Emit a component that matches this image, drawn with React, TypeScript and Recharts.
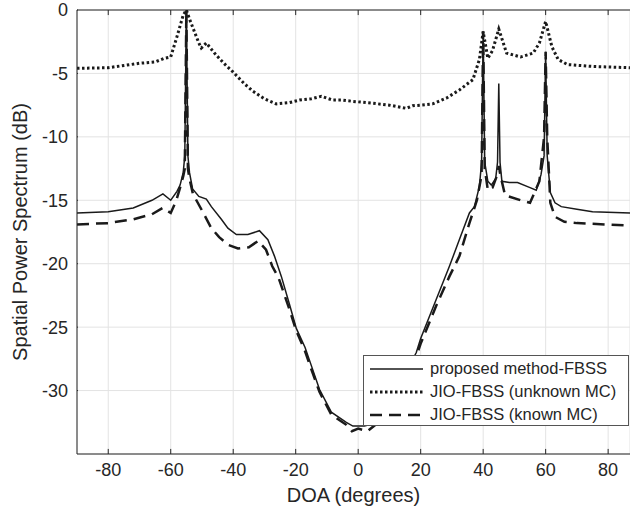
import { CartesianGrid, Legend, Line, LineChart, ReferenceLine, XAxis, YAxis } from "recharts";

// DOA (degrees) and spectrum (dB)
const proposedDoa = [-90, -80, -72, -66, -62.5, -60, -58, -57, -56, -55.5, -55, -54.5, -54, -53, -51, -48.6, -47, -43.8, -41.7, -39, -35.3, -31.6, -28.9, -26.8, -24.6, -22, -19.8, -17, -15.6, -12.4, -8.6, -3.8, -1.7, 2, 5, 8, 12, 15, 18.6, 20, 25, 29.2, 32.4, 35.6, 37.2, 38.8, 39.5, 40, 40.5, 41.5, 42.6, 44, 44.6, 45, 45.4, 46, 48.4, 51, 55, 57, 58.5, 59.5, 60, 60.5, 61.5, 63, 65, 70, 75, 87];
const proposedDb = [-16.0, -15.9, -15.6, -15.0, -14.5, -15.0, -14.3, -13.8, -12.8, -11.5, 0, -11.5, -12.8, -14.1, -14.7, -14.9, -15.5, -16.5, -17.2, -17.7, -17.7, -17.4, -18.1, -19.4, -21.0, -23.2, -25.1, -26.6, -27.6, -29.9, -31.7, -32.5, -32.8, -32.8, -32.6, -31.8, -30.0, -28.7, -27.0, -25.9, -22.8, -20.2, -18.1, -16.0, -15.5, -13.9, -12.0, -1.7, -12.0, -13.5, -13.8, -13.3, -12.0, -5.8, -12.0, -13.5, -13.6, -13.6, -14.0, -14.2, -13.0, -11.5, -3.3, -11.5, -14.4, -15.2, -15.5, -15.7, -15.9, -16.0];

const unknownDoa = [-90, -80, -70, -65, -62, -60, -58, -56, -55, -54, -52.9, -51, -50.2, -48.6, -46, -43, -40, -36.5, -33.7, -30, -26.2, -22, -18.8, -15, -11.8, -8.2, -5, -1.8, 4.6, 10, 15.4, 17.4, 20, 23.8, 28.2, 32.4, 36.7, 38.8, 40, 41.5, 43, 45, 47.5, 52, 56, 58, 60, 62, 64, 67, 75, 87];
const unknownDb = [-4.6, -4.55, -4.2, -4.1, -3.8, -3.7, -2.1, -0.4, 0, -0.7, -1.4, -2.6, -3.0, -2.6, -3.4, -4.2, -4.9, -5.8, -6.4, -7.0, -7.4, -7.3, -7.1, -7.0, -6.8, -7.1, -7.1, -7.2, -7.35, -7.5, -7.75, -7.55, -7.5, -7.4, -6.95, -6.3, -5.5, -3.9, -1.7, -3.8, -3.2, -1.5, -3.4, -3.7, -3.4, -2.6, -0.9, -2.9, -3.9, -4.3, -4.45, -4.55];

const knownDoa = [-90, -80, -72, -66, -62.5, -60, -58.2, -57, -56, -55.5, -55, -54.5, -54, -52.9, -50, -47, -44.5, -41.7, -38.5, -35, -32, -29.5, -27.5, -25.5, -22, -19.8, -17, -15.6, -12.4, -8.6, -3.8, -2, 0, 3, 6, 10, 15, 18.6, 20, 25, 29.2, 32.4, 35.6, 38, 39.5, 40, 40.5, 41.5, 43, 44.5, 45, 45.5, 47, 52, 55, 58, 59.5, 60, 60.5, 61.5, 63, 66, 70, 87];
const knownDb = [-16.9, -16.8, -16.5, -16.1, -15.6, -16.0, -15.0, -14.0, -13.1, -12.5, 0, -12.5, -13.3, -14.5, -15.8, -17.2, -17.9, -18.5, -18.8, -18.7, -18.2, -18.9, -20.2, -21.1, -23.6, -25.3, -26.9, -27.9, -30.1, -31.9, -32.7, -33.2, -33.0, -33.2, -32.6, -31.0, -28.9, -27.3, -26.3, -23.3, -21.0, -19.4, -16.8, -15.0, -13.0, -1.7, -12.5, -14.2, -14.0, -13.0, -12.3, -13.0, -14.6, -15.0, -15.2, -13.5, -10.0, -3.3, -10.0, -15.2, -16.3, -16.7, -16.8, -17.0];

const xTicks = [-80, -60, -40, -20, 0, 20, 40, 60, 80];
const yTicks = [0, -5, -10, -15, -20, -25, -30];

const seriesNames = ["proposed method-FBSS", "JIO-FBSS (unknown MC)", "JIO-FBSS (known MC)"];

const toPoints = (xs: number[], ys: number[]) => xs.map((x, i) => ({ x, y: ys[i] }));

const ink = "#1a1a1a";
const axisInk = "#262626";
const font = "'Liberation Sans', Arial, Helvetica, sans-serif";
const styles = [
    { dash: undefined, width: 1.5 },
    { dash: "2.5 2.5", width: 3 },
    { dash: "12 7", width: 2.5 },
];
// inward tick length in dB (approx 5px)
const tickLen = 0.4;

function LegendBox() {
    return (
        <div style={{
            width: 266, height: 71, border: "1px solid #555", background: "#fff",
            fontFamily: font, fontSize: 16.5, color: axisInk, paddingTop: 1, boxSizing: "border-box",
        }}>
            {seriesNames.map((name, i) => (
                <div key={name} style={{ display: "flex", alignItems: "center", height: 23 }}>
                    <svg width={66} height={10} style={{ flex: "none" }}>
                        <line x1={6} x2={59} y1={5} y2={5} stroke={ink}
                              strokeWidth={styles[i].width} strokeDasharray={styles[i].dash}/>
                    </svg>
                    <span style={{ whiteSpace: "nowrap" }}>{name}</span>
                </div>
            ))}
        </div>
    );
}

export default function App() {
    const series = [
        toPoints(proposedDoa, proposedDb),
        toPoints(unknownDoa, unknownDb),
        toPoints(knownDoa, knownDb),
    ];
    return (
        <div style={{ position: "absolute", left: 0, top: 0, width: 630, height: 510, background: "#fff", fontFamily: font }}>
            <LineChart width={630} height={510} margin={{ top: 10, right: 0, bottom: 0, left: 0 }}>
                <CartesianGrid stroke="#e3e3e3" strokeWidth={1}/>
                <XAxis dataKey="x" type="number" domain={[-90, 87]} ticks={xTicks} allowDataOverflow interval={0}
                       height={56} tickSize={0} tickMargin={9} tickLine={false}
                       axisLine={{ stroke: axisInk }}
                       tick={{ fontSize: 18, fill: axisInk, fontFamily: font }}
                       label={{ value: "DOA (degrees)", position: "insideBottom", offset: 8, fontSize: 20, fill: axisInk, fontFamily: font }}/>
                <YAxis type="number" domain={[-35, 0]} ticks={yTicks} allowDataOverflow interval={0}
                       width={77} tickSize={0} tickMargin={9} tickLine={false}
                       axisLine={{ stroke: axisInk }}
                       tick={{ fontSize: 18, fill: axisInk, fontFamily: font }}
                       label={{ value: "Spatial Power Spectrum (dB)", angle: -90, position: "insideLeft", offset: 20,
                           fontSize: 20, fill: axisInk, fontFamily: font, style: { textAnchor: "middle" } }}/>
                {/* top frame and inward ticks, MATLAB style */}
                <ReferenceLine y={0} stroke={axisInk}/>
                {xTicks.map((t) => (
                    <ReferenceLine key={`tt${t}`} segment={[{ x: t, y: 0 }, { x: t, y: -tickLen }]} stroke={axisInk}/>
                ))}
                {xTicks.map((t) => (
                    <ReferenceLine key={`bt${t}`} segment={[{ x: t, y: -35 }, { x: t, y: -35 + tickLen }]} stroke={axisInk}/>
                ))}
                {yTicks.map((t) => (
                    <ReferenceLine key={`lt${t}`} segment={[{ x: -90, y: t }, { x: -90 + tickLen * 0.8, y: t }]} stroke={axisInk}/>
                ))}
                {series.map((pts, i) => (
                    <Line key={seriesNames[i]} data={pts} dataKey="y" name={seriesNames[i]} type="linear"
                          stroke={ink} strokeWidth={styles[i].width} strokeDasharray={styles[i].dash}
                          dot={false} activeDot={false} isAnimationActive={false}/>
                ))}
                <Legend layout="vertical" align="center" verticalAlign="middle" content={() => <LegendBox/>}
                        wrapperStyle={{ left: 363, top: 355, width: 267, height: 72 }}/>
            </LineChart>
        </div>
    );
}
